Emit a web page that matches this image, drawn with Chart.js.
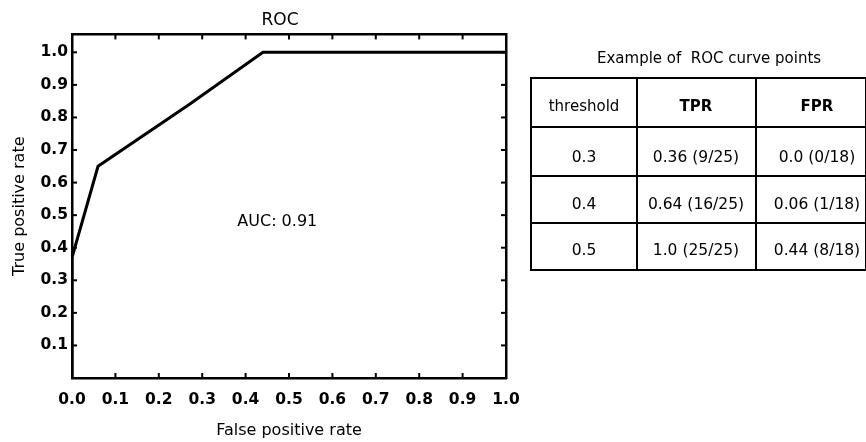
<!DOCTYPE html>
<html><head><meta charset="utf-8">
<script src="https://cdn.jsdelivr.net/npm/chart.js@4"></script>
<style>
body{margin:0;background:#fff;}
#wrap{position:relative;width:866px;height:442px;overflow:hidden;background:#fff;}
#cv{position:absolute;left:0;top:0;}
.txt{position:absolute;font-family:"DejaVu Sans";color:#000;white-space:pre;text-align:center;}
.ln{position:absolute;background:#000;}
</style>
</head><body>
<div id="wrap"><canvas id="cv" width="560" height="442"></canvas></div>
<script>
// ---- data ----
const fpr = [0, 0, 0.06, 0.27, 0.44, 1.0];
const tpr = [0, 0.37, 0.65, 0.84, 1.0, 1.0];
const xTicks = [0.0, 0.1, 0.2, 0.3, 0.4, 0.5, 0.6, 0.7, 0.8, 0.9, 1.0];
const yTicks = [0.1, 0.2, 0.3, 0.4, 0.5, 0.6, 0.7, 0.8, 0.9, 1.0];
const chartTitle = 'ROC';
const xTitle = 'False positive rate';
const yTitle = 'True positive rate';
const aucLabel = 'AUC: 0.91';
const tableTitle = 'Example of  ROC curve points';
const tableHeader = ['threshold', 'TPR', 'FPR'];
const thresholds = ['0.3', '0.4', '0.5'];
const tprCells = ['0.36 (9/25)', '0.64 (16/25)', '1.0 (25/25)'];
const fprCells = ['0.0 (0/18)', '0.06 (1/18)', '0.44 (8/18)'];

// ---- chart ----
Chart.defaults.font.family = '"DejaVu Sans"';
Chart.defaults.color = '#000';
const tickFont = {family: '"DejaVu Sans"', size: 15.5, weight: 'bold'};
const titleFont = {family: '"DejaVu Sans"', size: 16};

const innerTicks = {
  id: 'innerTicks',
  afterDraw(c) {
    const {ctx, chartArea: a, scales} = c;
    const L = 5;
    ctx.save();
    ctx.strokeStyle = '#000';
    ctx.lineWidth = 2;
    const seg = (x1, y1, x2, y2) => { ctx.beginPath(); ctx.moveTo(x1, y1); ctx.lineTo(x2, y2); ctx.stroke(); };
    xTicks.forEach(v => {
      if (v <= 0 || v >= 1) return;
      const px = scales.x.getPixelForValue(v);
      seg(px, a.bottom, px, a.bottom - L);
      seg(px, a.top, px, a.top + L);
    });
    yTicks.forEach(v => {
      const py = scales.y.getPixelForValue(v);
      seg(a.left, py, a.left + L, py);
      seg(a.right, py, a.right - L, py);
    });
    // AUC annotation
    ctx.fillStyle = '#000';
    ctx.font = '16px "DejaVu Sans"';
    ctx.textAlign = 'center';
    ctx.textBaseline = 'middle';
    ctx.fillText(aucLabel, scales.x.getPixelForValue(0.473), scales.y.getPixelForValue(0.478));
    ctx.restore();
  }
};

new Chart(document.getElementById('cv'), {
  type: 'line',
  data: {
    datasets: [{
      data: fpr.map((x, i) => ({x, y: tpr[i]})),
      borderColor: '#000',
      borderWidth: 3,
      pointRadius: 0,
      tension: 0,
      fill: false,
      xAxisID: 'x',
      yAxisID: 'y'
    }]
  },
  options: {
    responsive: false,
    devicePixelRatio: 1,
    animation: false,
    layout: {padding: 0},
    plugins: {
      legend: {display: false},
      tooltip: {enabled: false},
      title: {display: true, text: chartTitle, color: '#000',
        font: {family: '"DejaVu Sans"', size: 17, weight: 'normal'},
        padding: {top: 10, bottom: 4}}
    },
    scales: {
      x: {
        type: 'linear', position: 'bottom', min: 0, max: 1,
        afterBuildTicks: s => { s.ticks = xTicks.map(v => ({value: v})); },
        afterFit: s => { s.height = 64; },
        ticks: {callback: v => Number(v).toFixed(1), font: tickFont, color: '#000', padding: 13, maxRotation: 0, autoSkip: false},
        grid: {display: false, drawTicks: false},
        border: {display: true, color: '#000', width: 2.5},
        title: {display: true, text: xTitle, font: titleFont, color: '#000', padding: {top: 0, bottom: 2}}
      },
      y: {
        type: 'linear', position: 'left', min: 0, max: 1.055,
        afterBuildTicks: s => { s.ticks = yTicks.map(v => ({value: v})); },
        afterFit: s => { s.width = 72; },
        ticks: {callback: v => Number(v).toFixed(1), font: tickFont, color: '#000', padding: 4},
        grid: {display: false, drawTicks: false},
        border: {display: true, color: '#000', width: 2.5},
        title: {display: true, text: yTitle, font: titleFont, color: '#000', padding: {top: 10, bottom: 0}}
      },
      x2: {
        type: 'linear', position: 'top', min: 0, max: 1,
        afterFit: s => { s.height = 0; },
        ticks: {display: false},
        grid: {display: false, drawTicks: false},
        border: {display: true, color: '#000', width: 2.5}
      },
      y2: {
        type: 'linear', position: 'right', min: 0, max: 1.055,
        afterFit: s => { s.width = 54; },
        ticks: {display: false},
        grid: {display: false, drawTicks: false},
        border: {display: true, color: '#000', width: 2.5}
      }
    }
  },
  plugins: [innerTicks]
});

// ---- table (HTML text) ----
const wrap = document.getElementById('wrap');
const colEdges = [531, 637, 756, 866];
const rowEdges = [78, 127, 176, 223, 270];
function addLine(l, t, w, h) {
  const d = document.createElement('div'); d.className = 'ln';
  d.style.left = l + 'px'; d.style.top = t + 'px'; d.style.width = w + 'px'; d.style.height = h + 'px';
  wrap.appendChild(d);
}
function addText(txt, cx, cy, font) {
  const d = document.createElement('div'); d.className = 'txt';
  d.textContent = txt; d.style.font = font;
  d.style.left = (cx - 100) + 'px'; d.style.width = '200px';
  d.style.top = (cy - 10) + 'px'; d.style.lineHeight = '20px';
  wrap.appendChild(d);
}
const tW = 2;
colEdges.forEach(x => addLine(x - 1, rowEdges[0] - 1, tW, rowEdges[rowEdges.length - 1] - rowEdges[0] + tW));
rowEdges.forEach(y => addLine(colEdges[0] - 1, y - 1, colEdges[colEdges.length - 1] - colEdges[0] + tW, tW));

addText(tableTitle, 697, 58, '15px "DejaVu Sans"');
const colCenters = [584, 696, 817];
const hdrFonts = ['15px "DejaVu Sans"', 'bold 15px "DejaVu Sans"', 'bold 15px "DejaVu Sans"'];
tableHeader.forEach((h, i) => addText(h, colCenters[i], 106, hdrFonts[i]));
const rowCenters = [157, 204, 250];
const cellFont = '15.5px "DejaVu Sans"';
thresholds.forEach((t, r) => {
  addText(t, colCenters[0], rowCenters[r], cellFont);
  addText(tprCells[r], colCenters[1], rowCenters[r], cellFont);
  addText(fprCells[r], colCenters[2], rowCenters[r], cellFont);
});
</script>
</body></html>
